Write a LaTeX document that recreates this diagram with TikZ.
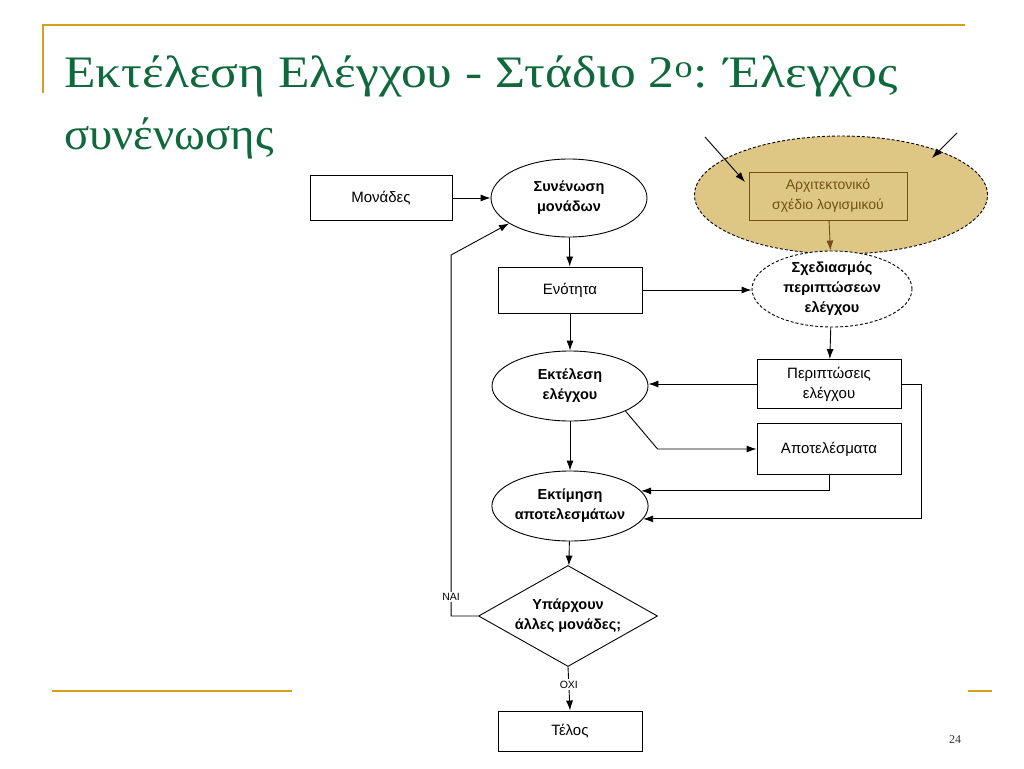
\documentclass[tikz,border=0pt]{standalone}
\usepackage{fontspec}
\setmainfont{Liberation Serif}
\newfontfamily\diagfont{Liberation Sans}
\usepackage{tikz}
\usetikzlibrary{shapes,arrows.meta,positioning,calc}
\usepackage{xcolor}
\definecolor{gold}{RGB}{212,160,30}
\definecolor{titlegreen}{RGB}{16,105,60}
\definecolor{tan}{RGB}{222,199,133}
\definecolor{brownline}{RGB}{112,80,22}

\begin{document}
\begin{tikzpicture}[x=1pt, y=-1pt, >={Latex[length=10pt,width=7pt]}, line width=0.9pt,
  boxnode/.style={draw, rectangle, minimum width=144pt, minimum height=46pt, inner sep=2pt,
    font=\diagfont\fontsize{15}{20}\selectfont, align=center},
  ovalnode/.style={draw, ellipse, minimum width=156pt, minimum height=70pt, inner sep=0pt,
    font=\diagfont\bfseries\fontsize{14.5}{20}\selectfont, align=center},
  lbl/.style={fill=white, inner sep=1.5pt, font=\diagfont\fontsize{10.5}{12}\selectfont},
  fine dash/.style={dash pattern=on 3pt off 2pt}]
  \useasboundingbox (0,0) rectangle (1024,768);

  % Slide frame and title
  \draw[gold, line width=2pt] (43,93) -- (43,25) -- (965,25);
  \draw[gold, line width=2.5pt] (52,691) -- (292,691);
  \draw[gold, line width=2.5pt] (968,691) -- (992,691);
  \node[anchor=base west, inner sep=0pt, titlegreen, font=\fontsize{45}{54}\selectfont] (title1) at (64,87)
    {\scalebox{1.145}[1]{Εκτέλεση Ελέγχου - Στάδιο 2\textsuperscript{ο}: Έλεγχος}};
  \node[anchor=base west, inner sep=0pt, titlegreen, font=\fontsize{45}{54}\selectfont] (title2) at (64,149)
    {\scalebox{1.04}[1]{συνένωσης}};
  \node[anchor=base, inner sep=0pt, black!80, font=\fontsize{12}{14}\selectfont] (pagenum) at (955,743) {24};

  % Highlighted architecture design
  \node[draw, ellipse, fine dash, fill=tan, minimum width=293pt, minimum height=118pt] (highlight) at (841,195) {};
  \node[boxnode, draw=brownline, text=brownline, minimum width=158pt, minimum height=48pt,
    font=\diagfont\fontsize{14}{20}\selectfont] (arxitektoniko) at (828,196)
    {Αρχιτεκτονικό\\σχέδιο λογισμικού};
  \coordinate (annAstart) at (705,137);
  \coordinate (annAend) at (745,182);
  \coordinate (annBstart) at (957,133);
  \coordinate (annBend) at (932,158);
  \draw[->] (annAstart) -- (annAend);
  \draw[->] (annBstart) -- (annBend);

  % Flow nodes
  \node[boxnode, minimum width=142pt, minimum height=45pt] (monades) at (381,198) {Μονάδες};
  \node[ovalnode, minimum height=78pt] (synenosi) at (569,198) {Συνένωση\\μονάδων};
  \node[boxnode] (enotita) at (570,290) {Ενότητα};
  \node[ovalnode, fine dash, fill=white, minimum width=160pt, minimum height=76pt] (sxediasmos) at (832,289)
    {Σχεδιασμός\\περιπτώσεων\\ελέγχου};
  \node[ovalnode] (ektelesi) at (570,386) {Εκτέλεση\\ελέγχου};
  \node[boxnode, minimum height=49pt] (periptoseis) at (829,384) {Περιπτώσεις\\ελέγχου};
  \node[boxnode, minimum height=51pt] (apotelesmata) at (829,449) {Αποτελέσματα};
  \node[ovalnode] (ektimisi) at (570,506) {Εκτίμηση\\αποτελεσμάτων};
  \node[draw, diamond, aspect=1.77, minimum width=179pt, minimum height=101pt, inner sep=0pt,
    font=\diagfont\bfseries\fontsize{14.5}{20}\selectfont, align=center] (yparxoun) at (568,616)
    {Υπάρχουν\\άλλες μονάδες;};
  \node[boxnode, minimum height=40pt] (telos) at (570,731) {Τέλος};

  % Connectors
  \draw[->] (monades) -- (synenosi);
  \draw[->] (synenosi) -- (enotita);
  \draw[->] (enotita.east) -- (enotita.east -| sxediasmos.west);
  \draw[->, brownline] (arxitektoniko) -- (sxediasmos);
  \draw[->] (sxediasmos) -- (periptoseis);
  \draw[->] (periptoseis.west) -- (periptoseis.west -| ektelesi.east);
  \draw[->] (enotita) -- (ektelesi);
  \draw[->] (ektelesi.south east) -- ($(apotelesmata.west)+(-99,0)$) -- (apotelesmata.west);
  \draw[->] (ektelesi) -- (ektimisi);
  \draw[->] (apotelesmata.south) |- (ektimisi.12);
  \draw[->] (periptoseis.east) -- ++(20,0) |- (ektimisi.-10);
  \draw[->] (ektimisi) -- (yparxoun);
  \draw[->] (yparxoun.west) -- ++(-27,0) -- node[lbl, pos=0.053] {ΝΑΙ} ++(0,-361) -- (synenosi.203);
  \draw[->] (yparxoun.south) -- node[lbl, pos=0.4] {ΟΧΙ} (telos.north);
\end{tikzpicture}
\end{document}
